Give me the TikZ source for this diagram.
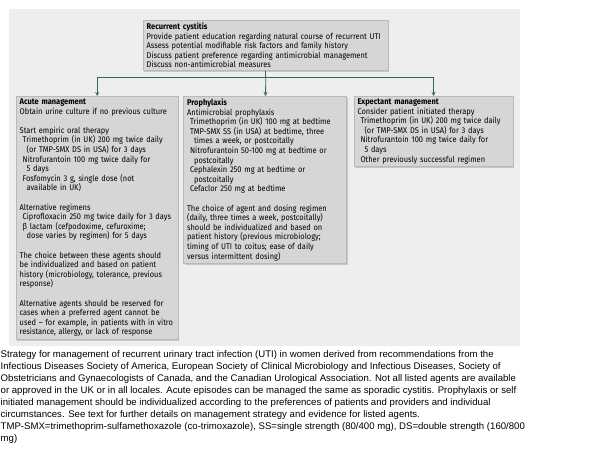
\documentclass[tikz,border=0pt]{standalone}
\usepackage{fontspec}
\setmainfont{Fira Sans}[FakeStretch=0.9]
\newfontfamily\didafont{Liberation Sans}
\usepackage{tikz}
\usetikzlibrary{positioning,shadows}

\definecolor{linea}{RGB}{45,105,85}
\definecolor{fondo}{RGB}{238,238,238}
\definecolor{riquadro}{RGB}{214,214,214}

\newcommand{\sub}{\hspace*{3pt}}
\newcommand{\cont}{\hspace*{7pt}}
\newcommand{\gap}{\\[9.6pt]}

\begin{document}
\begin{tikzpicture}[x=1pt,y=-1pt,>=stealth,
  box/.style={draw=gray!55,fill=riquadro,anchor=north west,align=left,
    inner xsep=3.5pt,inner ysep=2.5pt,
    font=\fontsize{8.3}{9.6}\selectfont,
    drop shadow={shadow xshift=1pt,shadow yshift=-1.5pt,opacity=.35}},
  link/.style={draw=linea,line width=0.8pt}]

  \useasboundingbox (0,0) rectangle (600,453);

  % Fondo
  \fill[fondo] (9,9) rectangle (520,346);

  % Riquadri
  \node[box,text width=238pt] (top) at (143,20) {%
    \textbf{Recurrent cystitis}\\
    Provide patient education regarding natural course of recurrent UTI\\
    Assess potential modifiable risk factors and family history\\
    Discuss patient preference regarding antimicrobial management\\
    Discuss non-antimicrobial measures};

  \node[box,text width=155pt] (acute) at (16,96) {%
    \textbf{Acute management}\\
    Obtain urine culture if no previous culture\gap
    Start empiric oral therapy\\
    \sub Trimethoprim (in UK) 200 mg twice daily\\
    \cont (or TMP-SMX DS in USA) for 3 days\\
    \sub Nitrofurantoin 100 mg twice daily for\\
    \cont 5 days\\
    \sub Fosfomycin 3 g, single dose (not\\
    \cont available in UK)\gap
    Alternative regimens\\
    \sub Ciprofloxacin 250 mg twice daily for 3 days\\
    \sub β lactam (cefpodoxime, cefuroxime;\\
    \cont dose varies by regimen) for 5 days\gap
    The choice between these agents should\\
    be individualized and based on patient\\
    history (microbiology, tolerance, previous\\
    response)\gap
    Alternative agents should be reserved for\\
    cases when a preferred agent cannot be\\
    used – for example, in patients with in vitro\\
    resistance, allergy, or lack of response};

  \node[box,text width=156pt,right=5pt of acute.north east,anchor=north west] (proph) {%
    \textbf{Prophylaxis}\\
    Antimicrobial prophylaxis\\
    \sub Trimethoprim (in UK) 100 mg at bedtime\\
    \sub TMP-SMX SS (in USA) at bedtime, three\\
    \cont times a week, or postcoitally\\
    \sub Nitrofurantoin 50-100 mg at bedtime or\\
    \cont postcoitally\\
    \sub Cephalexin 250 mg at bedtime or\\
    \cont postcoitally\\
    \sub Cefaclor 250 mg at bedtime\gap
    The choice of agent and dosing regimen\\
    (daily, three times a week, postcoitally)\\
    should be individualized and based on\\
    patient history (previous microbiology;\\
    timing of UTI to coitus; ease of daily\\
    versus intermittent dosing)};

  \node[box,text width=152pt,right=7pt of proph.north east,anchor=north west] (expect) {%
    \textbf{Expectant management}\\
    Consider patient initiated therapy\\
    \sub Trimethoprim (in UK) 200 mg twice daily\\
    \cont (or TMP-SMX DS in USA) for 3 days\\
    \sub Nitrofurantoin 100 mg twice daily for\\
    \cont 5 days\\
    \sub Other previously successful regimen};

  % Collegamenti
  \draw[link] (top.south) -- ++(0,7) coordinate (bus);
  \draw[link,->] (bus) -| (acute);
  \draw[link,->] (bus) -| (expect);
  \draw[link,->] (bus) -- (proph);

  % Didascalia
  \node[anchor=north west,align=left,inner sep=0pt,
    font=\didafont\fontsize{9.6}{12}\selectfont] (caption) at (0.5,350) {%
    Strategy for management of recurrent urinary tract infection (UTI) in women derived from recommendations from the\\
    Infectious Diseases Society of America, European Society of Clinical Microbiology and Infectious Diseases, Society of\\
    Obstetricians and Gynaecologists of Canada, and the Canadian Urological Association. Not all listed agents are available\\
    or approved in the UK or in all locales. Acute episodes can be managed the same as sporadic cystitis. Prophylaxis or self\\
    initiated management should be individualized according to the preferences of patients and providers and individual\\
    circumstances. See text for further details on management strategy and evidence for listed agents.\\
    TMP-SMX=trimethoprim-sulfamethoxazole (co-trimoxazole), SS=single strength (80/400 mg), DS=double strength (160/800\\
    mg)};

\end{tikzpicture}
\end{document}
